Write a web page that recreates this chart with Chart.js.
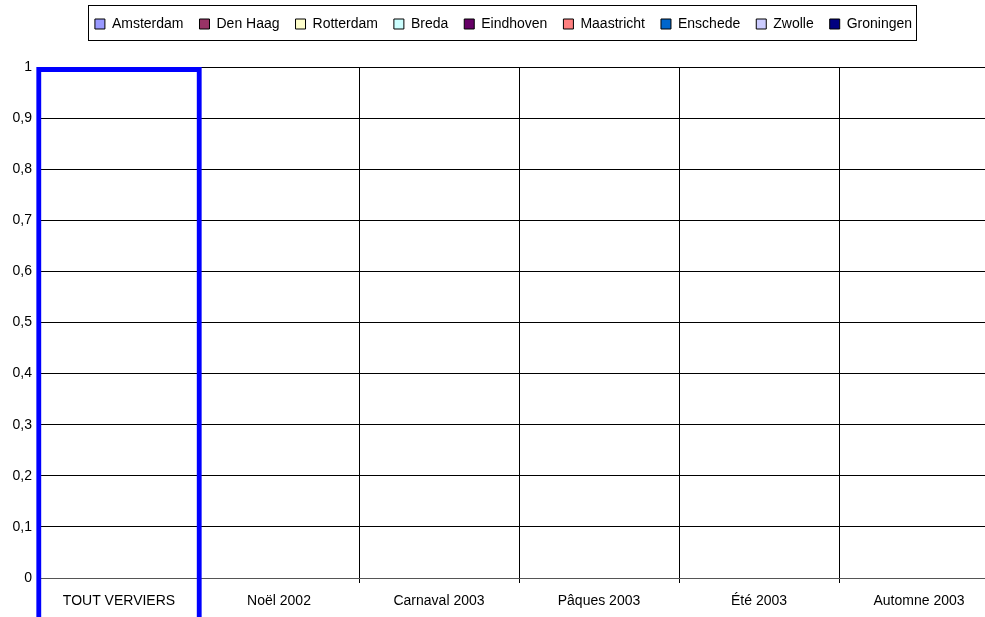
<!DOCTYPE html>
<html>
<head>
<meta charset="utf-8">
<script src="https://cdn.jsdelivr.net/npm/chart.js@4/dist/chart.umd.min.js"></script>
<style>
  html, body { margin: 0; padding: 0; background: #fff; overflow: hidden; }
  #wrap { width: 1000px; height: 617px; }
</style>
</head>
<body>
<div id="wrap"><canvas id="chart" width="1000" height="617"></canvas></div>
<script>
const categories = ['TOUT VERVIERS', 'Noël 2002', 'Carnaval 2003', 'Pâques 2003', 'Été 2003', 'Automne 2003'];
const cities = ['Amsterdam', 'Den Haag', 'Rotterdam', 'Breda', 'Eindhoven', 'Maastricht', 'Enschede', 'Zwolle', 'Groningen'];
const cityColors = ['#9999FF', '#993366', '#FFFFCC', '#CCFFFF', '#660066', '#FF8080', '#0066CC', '#CCCCFF', '#000080'];
// every city series is empty in the picture
const cityValues = [
    [0, 0, 0, 0, 0, 0],
    [0, 0, 0, 0, 0, 0],
    [0, 0, 0, 0, 0, 0],
    [0, 0, 0, 0, 0, 0],
    [0, 0, 0, 0, 0, 0],
    [0, 0, 0, 0, 0, 0],
    [0, 0, 0, 0, 0, 0],
    [0, 0, 0, 0, 0, 0],
    [0, 0, 0, 0, 0, 0]
];
// highlighted first category (blue outline running off the bottom)
const selectionRange = [[-0.2, 1], null, null, null, null, null];
const yTicks = [0, 0.1, 0.2, 0.3, 0.4, 0.5, 0.6, 0.7, 0.8, 0.9, 1];

Chart.defaults.font.family = "'Liberation Sans', Arial, sans-serif";
Chart.defaults.color = '#000';

const legendBox = {
    id: 'legendBox',
    afterDraw(chart) {
        const boxes = chart.legend.legendHitBoxes;
        if (!boxes || !boxes.length) return;
        const x1 = Math.min(...boxes.map(b => b.left));
        const x2 = Math.max(...boxes.map(b => b.left + b.width));
        const ctx = chart.ctx;
        ctx.save();
        ctx.strokeStyle = '#000';
        ctx.lineWidth = 1;
        ctx.strokeRect(Math.round(x1) - 6.5, 5.5, Math.round(x2 - x1) + 11, 35);
        ctx.restore();
    }
};

const datasets = cities.map((name, i) => ({
    label: name,
    data: cityValues[i],
    backgroundColor: cityColors[i],
    borderWidth: 0
}));

datasets.push({
    label: 'selection',
    data: selectionRange,
    backgroundColor: 'rgba(0,0,0,0)',
    borderColor: '#0000FF',
    borderWidth: 5,
    borderSkipped: 'bottom',
    grouped: false,
    barPercentage: 1.035,
    categoryPercentage: 1,
    clip: false
});

new Chart(document.getElementById('chart'), {
    type: 'bar',
    data: { labels: categories, datasets: datasets },
    options: {
        responsive: false,
        animation: false,
        layout: { padding: { top: 1, right: 1, left: 8 } },
        plugins: {
            tooltip: { enabled: false },
            subtitle: {
                display: true,
                text: '',
                weight: 500,
                font: { size: 10, lineHeight: 1 },
                padding: { top: 0, bottom: 16 }
            },
            legend: {
                position: 'top',
                labels: {
                    font: { size: 14 },
                    boxWidth: 10,
                    boxHeight: 10,
                    padding: 16,
                    filter: item => item.text !== 'selection',
                    generateLabels: chart => Chart.defaults.plugins.legend.labels.generateLabels(chart).map(l => {
                        l.strokeStyle = '#000';
                        l.lineWidth = 1;
                        return l;
                    })
                }
            }
        },
        scales: {
            x: {
                grid: { offset: true, color: '#000', tickLength: 5 },
                border: { color: '#555' },
                ticks: { font: { size: 14 }, padding: 10, maxRotation: 0 },
                afterFit: s => { s.height = 39; }
            },
            y: {
                min: 0,
                max: 1,
                grid: { color: '#000', drawTicks: false },
                border: { display: false },
                afterBuildTicks: s => { s.ticks = yTicks.map(v => ({ value: v })); },
                ticks: {
                    font: { size: 14 },
                    padding: 7,
                    callback: v => String(Math.round(v * 10) / 10).replace('.', ',')
                },
                afterFit: s => { s.width = 31; }
            }
        }
    },
    plugins: [legendBox]
});
</script>
</body>
</html>
